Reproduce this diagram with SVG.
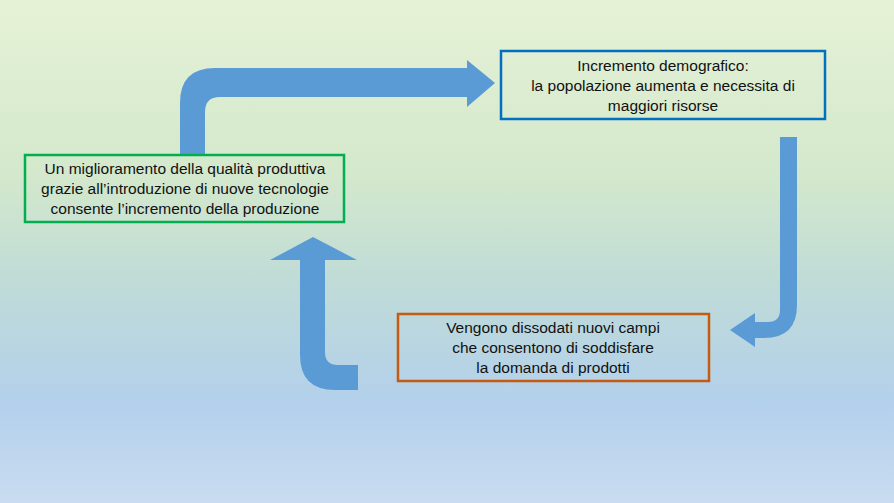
<svg xmlns="http://www.w3.org/2000/svg" width="894" height="503" viewBox="0 0 894 503">
<defs>
<linearGradient id="bg" x1="0" y1="0" x2="0" y2="1">
<stop offset="0" stop-color="#e6f2d6"/>
<stop offset="0.35" stop-color="#d3e8cc"/>
<stop offset="0.55" stop-color="#c0dcd6"/>
<stop offset="0.8" stop-color="#b3d0ec"/>
<stop offset="1" stop-color="#c9dcf0"/>
</linearGradient>
<style>
.box{fill:none;stroke-width:2.5}
.t{font-family:"Liberation Sans",Arial,sans-serif;font-size:15.5px;fill:#111;text-anchor:middle}
.arr{fill:#5b9bd5}
</style>
</defs>
<rect width="894" height="503" fill="url(#bg)"/>
<g id="connectors">
<path class="arr" d="M180,155 L180,103 Q180,68 215,68 L467,68 L467,60 L495,83 L467,107 L467,97 L220,97 Q205,97 205,112 L205,155 Z"/>
<path class="arr" d="M797,137 L797,305 Q797,338 764,338 L755,338 L755,347 L730,330 L755,313 L755,322 L768,322 Q780,322 780,310 L780,137 Z"/>
<path class="arr" d="M358,390 L335,390 Q300,390 300,355 L300,260 L270,260 L313,237 L357,260 L325,260 L325,352 Q325,365 338,365 L358,365 Z"/>
</g>
<g id="node-green">
<rect class="box" x="25" y="155" width="319" height="67" stroke="#00b050"/>
<text class="t" x="185" y="174">Un miglioramento della qualità produttiva</text>
<text class="t" x="185" y="194">grazie all’introduzione di nuove tecnologie</text>
<text class="t" x="185" y="214">consente l’incremento della produzione</text>
</g>
<g id="node-blue">
<rect class="box" x="501" y="51" width="324" height="68" stroke="#0070c0"/>
<text class="t" x="663" y="71">Incremento demografico:</text>
<text class="t" x="663" y="91">la popolazione aumenta e necessita di</text>
<text class="t" x="663" y="111">maggiori risorse</text>
</g>
<g id="node-orange">
<rect class="box" x="398" y="314" width="311" height="67" stroke="#c55a11"/>
<text class="t" x="553" y="333">Vengono dissodati nuovi campi</text>
<text class="t" x="553" y="353">che consentono di soddisfare</text>
<text class="t" x="553" y="373">la domanda di prodotti</text>
</g>
</svg>
